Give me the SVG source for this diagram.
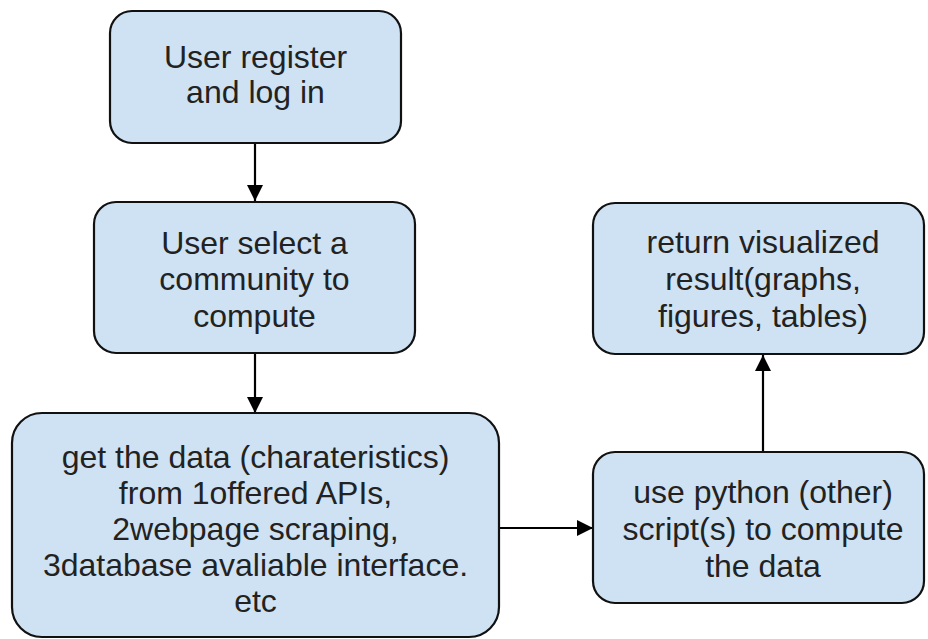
<svg xmlns="http://www.w3.org/2000/svg" width="928" height="639" viewBox="0 0 928 639">
  <defs>
    <style>
      .box { fill: #cfe2f3; stroke: #111; stroke-width: 2.2; }
      .lbl { font-family: "Liberation Sans", Arial, sans-serif; font-size: 32px; fill: #222; text-anchor: middle; }
      .conn { stroke: #000; stroke-width: 2.2; fill: none; }
    </style>
    <marker id="arrow" viewBox="0 0 16 20" refX="16" refY="10" markerWidth="16" markerHeight="20" markerUnits="userSpaceOnUse" orient="auto">
      <path d="M0,2 L16,10 L0,18 Z" fill="#000"/>
    </marker>
  </defs>
  <rect width="928" height="639" fill="#fff"/>

  <g id="connectors">
    <line class="conn" x1="255" y1="143" x2="255" y2="201" marker-end="url(#arrow)"/>
    <line class="conn" x1="255" y1="353" x2="255" y2="413" marker-end="url(#arrow)"/>
    <line class="conn" x1="500" y1="528" x2="593" y2="528" marker-end="url(#arrow)"/>
    <line class="conn" x1="763" y1="452" x2="763" y2="355" marker-end="url(#arrow)"/>
  </g>

  <g id="node-register">
    <rect class="box" x="110" y="11" width="291" height="132" rx="22" ry="22"/>
    <text class="lbl" x="255.5" y="68">User register</text>
    <text class="lbl" x="255.5" y="103">and log in</text>
  </g>

  <g id="node-select">
    <rect class="box" x="94" y="202" width="321" height="151" rx="22" ry="22"/>
    <text class="lbl" x="254.5" y="254">User select a</text>
    <text class="lbl" x="254.5" y="290">community to</text>
    <text class="lbl" x="254.5" y="327">compute</text>
  </g>

  <g id="node-getdata">
    <rect class="box" x="12" y="413" width="487" height="224" rx="30" ry="30"/>
    <text class="lbl" x="255.5" y="468">get the data (charateristics)</text>
    <text class="lbl" x="255.5" y="504">from 1offered APIs,</text>
    <text class="lbl" x="255.5" y="540">2webpage scraping,</text>
    <text class="lbl" x="255.5" y="576">3database avaliable interface.</text>
    <text class="lbl" x="255.5" y="612">etc</text>
  </g>

  <g id="node-compute">
    <rect class="box" x="593" y="452" width="331" height="151" rx="22" ry="22"/>
    <text class="lbl" x="763" y="503">use python (other)</text>
    <text class="lbl" x="763" y="540">script(s) to compute</text>
    <text class="lbl" x="763" y="577">the data</text>
  </g>

  <g id="node-return">
    <rect class="box" x="593" y="203" width="331" height="151" rx="22" ry="22"/>
    <text class="lbl" x="763" y="253">return visualized</text>
    <text class="lbl" x="763" y="290">result(graphs,</text>
    <text class="lbl" x="763" y="327">figures, tables)</text>
  </g>
</svg>
